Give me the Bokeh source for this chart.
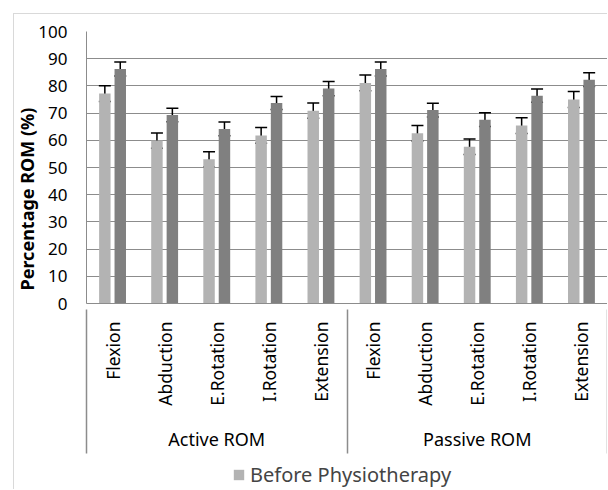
import math
from bokeh.plotting import figure
from bokeh.layouts import column
from bokeh.models import (FactorRange, ColumnDataSource, Whisker, TeeHead,
                          FixedTicker, Legend, LegendItem, LinearAxis,
                          CategoricalAxis, Title, Range1d)
from bokeh.transform import dodge
from bokeh.embed import file_html
from bokeh.resources import INLINE

groups = ["Active ROM", "Passive ROM"]
movements = ["Flexion", "Abduction", "E.Rotation", "I.Rotation", "Extension"]
before = [77.2, 59.9, 53.0, 61.8, 70.9, 81.1, 62.6, 57.6, 65.4, 75.0]
after = [86.2, 69.3, 64.2, 73.7, 79.0, 86.2, 71.1, 67.6, 76.4, 82.3]
before_err = [2.9, 2.8, 2.8, 2.9, 2.8, 2.9, 2.85, 2.85, 2.9, 2.9]
after_err = [2.6, 2.5, 2.5, 2.4, 2.6, 2.6, 2.5, 2.5, 2.45, 2.5]
y_ticks = [0, 10, 20, 30, 40, 50, 60, 70, 80, 90, 100]

factors = [(g, m) for g in groups for m in movements]
group_edges = [i * len(movements) for i in range(len(groups) + 1)]

src = ColumnDataSource(dict(
    x=factors,
    before=before,
    after=after,
    b_up=[v + e for v, e in zip(before, before_err)],
    b_lo=[v - e for v, e in zip(before, before_err)],
    a_up=[v + e for v, e in zip(after, after_err)],
    a_lo=[v - e for v, e in zip(after, after_err)],
))

FONT = "Noto Sans"
GRID = "#8c8c8c"
BEFORE_C = "#b3b3b3"
AFTER_C = "#808080"
FRAME_BORDER = "1px solid #d9d9d9"

p = figure(x_range=FactorRange(*factors, range_padding=0, group_padding=0,
                               subgroup_padding=0, factor_padding=0),
           y_range=(0, 100), width=594, height=448,
           x_axis_location=None,
           output_backend="svg", toolbar_location=None,
           min_border_left=72, min_border_right=1, min_border_top=17,
           min_border_bottom=159)
p.margin = (13, 0, 0, 13)
p.styles = {"border-top": FRAME_BORDER, "border-left": FRAME_BORDER}
p.outline_line_color = None
p.background_fill_color = "white"
p.border_fill_color = "white"

off = 0.148
bw = 0.22
r_b = p.vbar(x=dodge("x", -off, range=p.x_range), top="before", width=bw,
             source=src, fill_color=BEFORE_C, line_color=None)
r_a = p.vbar(x=dodge("x", off, range=p.x_range), top="after", width=bw,
             source=src, fill_color=AFTER_C, line_color=None)

for d, up, lo in ((-off, "b_up", "b_lo"), (off, "a_up", "a_lo")):
    w = Whisker(base=dodge("x", d, range=p.x_range), upper=up, lower=lo,
                source=src, line_color="black", line_width=1.5,
                upper_head=TeeHead(size=12, line_color="black", line_width=1.5),
                lower_head=TeeHead(size=12, line_color="black", line_width=1.5))
    p.add_layout(w)

# y axis
p.yaxis.ticker = FixedTicker(ticks=y_ticks)
p.yaxis.major_label_text_font = FONT
p.yaxis.major_label_text_font_size = "17px"
p.yaxis.major_label_text_color = "black"
p.yaxis.major_label_standoff = 19
p.yaxis.major_tick_out = 0
p.yaxis.major_tick_in = 0
p.yaxis.minor_tick_out = 0
p.yaxis.minor_tick_in = 0
p.yaxis.major_tick_line_color = None
p.yaxis.minor_tick_line_color = None
p.yaxis.axis_line_color = GRID

ytitle = Title(text="Percentage ROM (%)", align="left", offset=13,
               text_font=FONT, text_font_size="18px", text_font_style="bold",
               text_color="black", standoff=-6)
p.add_layout(ytitle, "left")

cat_axis = CategoricalAxis(
    major_label_orientation=math.pi / 2,
    major_label_text_font=FONT, major_label_text_font_size="17.5px",
    major_label_text_color="black", major_label_standoff=18,
    group_text_font=FONT, group_text_font_size="18px", group_text_color="black",
    group_text_font_style="normal",
    major_tick_out=0, major_tick_in=0,
    major_tick_line_color=None, axis_line_color=GRID,
    separator_line_color=None)
p.add_layout(cat_axis, "below")

# category-box lines (group edges): inward minor ticks of an axis placed
# just under the category labels
edge_axis = LinearAxis(ticker=FixedTicker(ticks=[], minor_ticks=group_edges),
                       major_tick_in=0, major_tick_out=0,
                       minor_tick_in=144, minor_tick_out=0,
                       minor_tick_line_color=GRID, minor_tick_line_width=1.5,
                       major_label_text_font_size="0px", major_label_standoff=0,
                       axis_line_color=None)
p.add_layout(edge_axis, "below")

p.xgrid.grid_line_color = None
p.ygrid.grid_line_color = GRID
p.ygrid.grid_line_width = 1

# legend strip under the chart
lg = figure(width=594, height=28, x_range=Range1d(0, 1), y_range=Range1d(0, 1),
            output_backend="svg", toolbar_location=None,
            x_axis_location=None, y_axis_location=None,
            min_border_left=0, min_border_right=0, min_border_top=0,
            min_border_bottom=0)
lg.margin = (0, 0, 0, 13)
lg.styles = {"border-left": FRAME_BORDER}
lg.outline_line_color = None
lg.xgrid.grid_line_color = None
lg.ygrid.grid_line_color = None
# zero-height proxy bar: only its style is used, for the legend swatch
r_leg = lg.vbar(x=[0.5], top=[0], bottom=[0], width=0.01,
                fill_color=BEFORE_C, line_color=None)
legend = Legend(items=[LegendItem(label="Before Physiotherapy", renderers=[r_leg])],
                location=(146, 1), orientation="horizontal",
                padding=0, margin=0, spacing=0, label_standoff=5,
                glyph_width=13, glyph_height=13,
                label_text_font=FONT, label_text_font_size="20px",
                border_line_color=None, background_fill_alpha=0)
lg.add_layout(legend)

layout = column(p, lg, spacing=0)
open("out.html", "w").write(file_html(layout, INLINE))
